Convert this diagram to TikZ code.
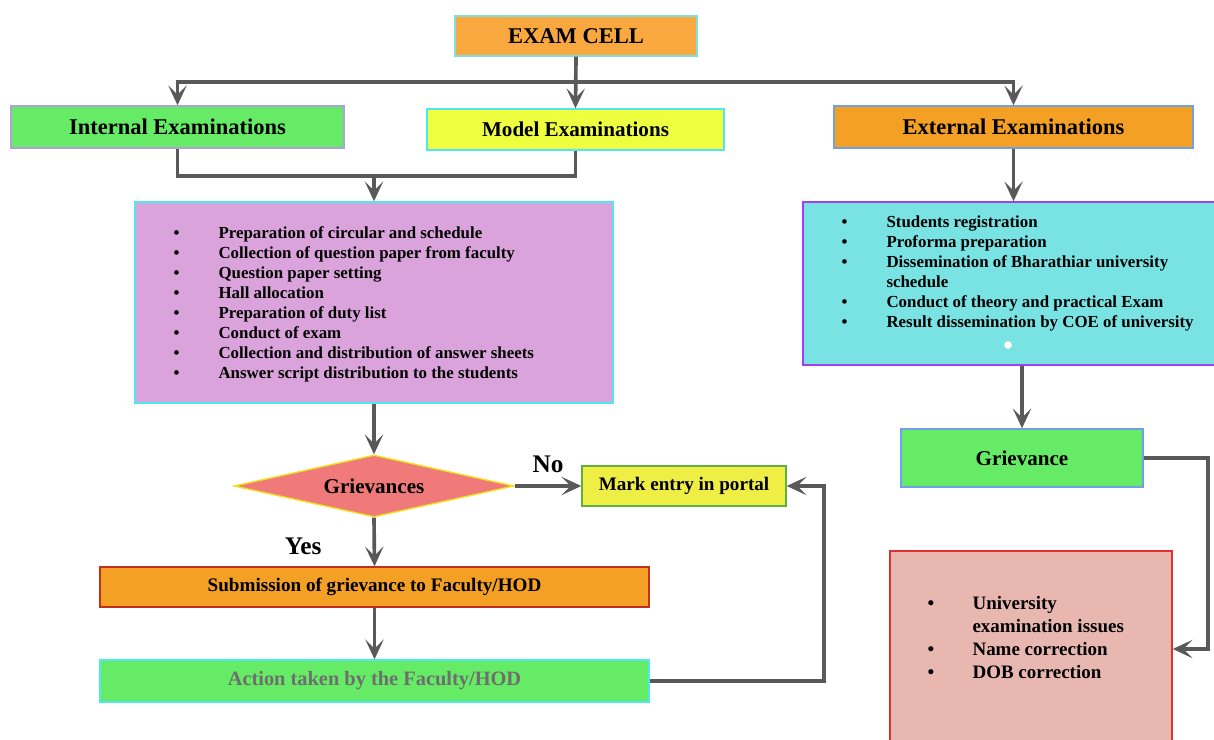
\documentclass[tikz,border=0pt]{standalone}
\usepackage{fontspec}
\setmainfont{Liberation Serif}
\usetikzlibrary{arrows.meta,shapes.geometric}
\definecolor{arrowgray}{HTML}{595959}
\definecolor{cellfill}{HTML}{F9A83F}
\definecolor{cellrim}{HTML}{7FE0E0}
\definecolor{greenfill}{HTML}{66EB66}
\definecolor{lavrim}{HTML}{B0A0D8}
\definecolor{yellowfill}{HTML}{EEFF40}
\definecolor{cyanrim}{HTML}{50E8F0}
\definecolor{orangefill}{HTML}{F4A024}
\definecolor{bluerim}{HTML}{70A0E8}
\definecolor{pinkfill}{HTML}{DBA3DB}
\definecolor{tealfill}{HTML}{79E3E3}
\definecolor{purplerim}{HTML}{A040F0}
\definecolor{redfill}{HTML}{F07979}
\definecolor{yellowrim}{HTML}{F0E020}
\definecolor{markfill}{HTML}{EEEE45}
\definecolor{greenrim}{HTML}{60B040}
\definecolor{darkredrim}{HTML}{C03020}
\definecolor{rosefill}{HTML}{E8B8B0}
\definecolor{redrim}{HTML}{E03030}
\definecolor{grayfont}{HTML}{6E6E6E}
\begin{document}
\begin{tikzpicture}[x=0.025cm,y=-0.025cm]
\tikzstyle{box}=[draw, rectangle, line width=1pt, inner sep=0pt, text centered]
\tikzstyle{choice}=[draw, diamond, aspect=4.5, line width=1pt, inner sep=0pt, text centered]
\tikzstyle{line}=[draw, line width=2.6pt, arrowgray, -{Stealth[length=14pt, width=13pt, inset=6.5pt]}]
\tikzstyle{wire}=[draw, line width=2.6pt, arrowgray]
\tikzstyle{listtext}=[inner sep=0pt, anchor=north west, align=left, font=\bfseries\fontsize{12}{14.2}\selectfont]

\useasboundingbox (0,0) rectangle (1214,740);
\clip (0,0) rectangle (1214,740);

% Define blocks
\node[box, fill=cellfill, draw=cellrim, minimum width=6.05cm, minimum height=1cm, font=\bfseries\fontsize{16}{19}\selectfont] (cell) at (576,36) {EXAM CELL};
\node[box, fill=greenfill, draw=lavrim, minimum width=8.325cm, minimum height=1.05cm, font=\bfseries\fontsize{16}{19}\selectfont] (internal) at (177.5,127) {Internal Examinations};
\node[box, fill=yellowfill, draw=cyanrim, minimum width=7.425cm, minimum height=1.025cm, font=\bfseries\fontsize{15}{18}\selectfont] (model) at (575.5,129.5) {Model Examinations};
\node[box, fill=orangefill, draw=bluerim, minimum width=8.975cm, minimum height=1.05cm, font=\bfseries\fontsize{16}{19}\selectfont] (external) at (1013.5,127) {External Examinations};
\node[box, fill=pinkfill, draw=cyanrim, minimum width=11.95cm, minimum height=5.025cm] (tasks) at (374,302.5) {};
\node[box, fill=tealfill, draw=purplerim, minimum width=10.35cm, minimum height=4.075cm] (extlist) at (1010,283.5) {};
\node[choice, fill=redfill, draw=yellowrim, minimum width=7cm, minimum height=1.55cm, font=\bfseries\fontsize{15}{18}\selectfont] (decide) at (374,486) {Grievances};
\node[box, fill=markfill, draw=greenrim, minimum width=5.1cm, minimum height=1cm, font=\bfseries\fontsize{13.6}{16}\selectfont] (mark) at (684,486) {Mark entry in portal};
\node[box, fill=orangefill, draw=darkredrim, minimum width=13.725cm, minimum height=1cm, font=\bfseries\fontsize{13.6}{16}\selectfont] (submit) at (374.5,587) {Submission of grievance to Faculty/HOD};
\node[box, fill=greenfill, draw=cyanrim, minimum width=13.725cm, minimum height=1.05cm, text=grayfont, font=\bfseries\fontsize{14.5}{17}\selectfont] (action) at (374.5,681) {Action taken by the Faculty/HOD};
\node[box, fill=greenfill, draw=bluerim, minimum width=6.05cm, minimum height=1.45cm, font=\bfseries\fontsize{15}{18}\selectfont] (grv) at (1022,458) {Grievance};
\node[box, fill=rosefill, draw=redrim, minimum width=7.05cm, minimum height=4.9cm] (fixbox) at (1031,649) {};

% List texts
\node[listtext] (tasktext) at ([shift={(39,23)}]tasks.north west) {%
\begin{tabular}{@{}p{32pt}@{}l@{}}
\textbullet & Preparation of circular and schedule\\
\textbullet & Collection of question paper from faculty\\
\textbullet & Question paper setting\\
\textbullet & Hall allocation\\
\textbullet & Preparation of duty list\\
\textbullet & Conduct of exam\\
\textbullet & Collection and distribution of answer sheets\\
\textbullet & Answer script distribution to the students
\end{tabular}};
\node[listtext] (exttext) at ([shift={(39,12)}]extlist.north west) {%
\begin{tabular}{@{}p{32pt}@{}l@{}}
\textbullet & Students registration\\
\textbullet & Proforma preparation\\
\textbullet & Dissemination of Bharathiar university\\
 & schedule\\
\textbullet & Conduct of theory and practical Exam\\
\textbullet & Result dissemination by COE of university
\end{tabular}};
\node[circle, fill=white, inner sep=0pt, minimum size=5.5pt] (blank) at (1008,345) {};
\node[listtext, font=\bfseries\fontsize{13.5}{16.4}\selectfont] (fixtext) at ([shift={(38,43)}]fixbox.north west) {%
\begin{tabular}{@{}p{32pt}@{}l@{}}
\textbullet & University\\
 & examination issues\\
\textbullet & Name correction\\
\textbullet & DOB correction
\end{tabular}};

% Connectors
\coordinate (split) at (576,82);
\coordinate (merge) at (374,176);
\draw[line] (cell.south) -- (model.north);
\draw[line] (split) -| (internal.north);
\draw[line] (split) -| (external.north);
\draw[wire] (internal.south) |- (merge);
\draw[wire] (model.south) |- (merge);
\draw[line] (merge) -- (tasks.north);
\draw[line] (tasks.south) -- (decide.north);
\draw[line] (decide.east) -- node[above=5pt, text=black, font=\bfseries\fontsize{18}{20}\selectfont] (nolabel) {No} (mark.west);
\draw[line] (decide.south) -- node[left=33pt, yshift=-3pt, text=black, font=\bfseries\fontsize{18}{20}\selectfont] (yeslabel) {Yes} (submit.north);
\draw[line] (submit.south) -- (action.north);
\draw[line] (action.east) -- ++(174,0) |- (mark.east);
\draw[line] (external.south) -- (external.south |- extlist.north);
\draw[line] (grv.north |- extlist.south) -- (grv.north);
\draw[line] (grv.east) -- ++(64,0) |- (fixbox.east);
\end{tikzpicture}
\end{document}
